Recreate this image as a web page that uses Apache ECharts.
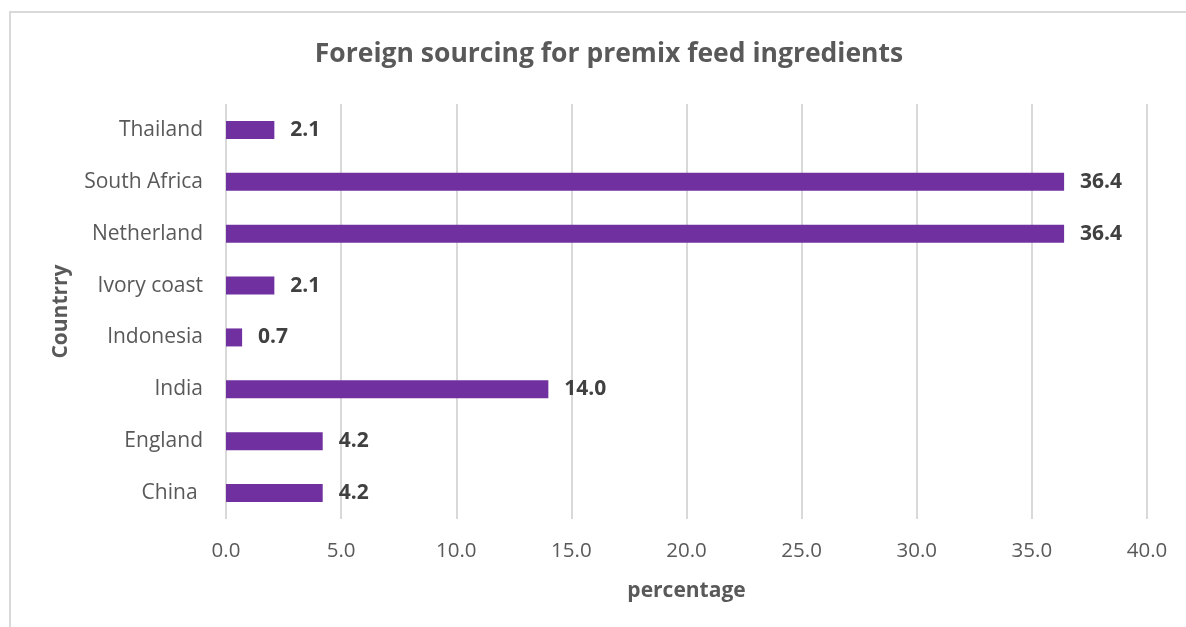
<!DOCTYPE html>
<html>
<head>
<meta charset="utf-8">
<script src="https://cdn.jsdelivr.net/npm/echarts@6/dist/echarts.min.js"></script>
<style>
html,body{margin:0;padding:0;background:#fff;}
#frame{position:absolute;left:9px;top:11px;width:1200px;height:640px;border-left:2px solid #d9d9d9;border-top:2px solid #d9d9d9;box-sizing:border-box;}
#chart{position:absolute;left:0;top:0;width:1186px;height:627px;}
</style>
</head>
<body>
<div id="frame"></div>
<div id="chart"></div>
<script>
const categories = ['China ', 'England', 'India', 'Indonesia', 'Ivory coast', 'Netherland', 'South Africa', 'Thailand'];
const values = [4.2, 4.2, 14.0, 0.7, 2.1, 36.4, 36.4, 2.1];
const xTicks = { min: 0, max: 40, interval: 5 };

const FONT = '"Open Sans", "Noto Sans", sans-serif';
const chart = echarts.init(document.getElementById('chart'), null, { renderer: 'canvas' });
chart.setOption({
  backgroundColor: 'transparent',
  animation: false,
  title: {
    text: 'Foreign sourcing for premix feed ingredients',
    left: 604, top: 36, textAlign: 'center',
    textStyle: { fontFamily: FONT, fontSize: 26.5, fontWeight: 'bold', color: '#595959' }
  },
  grid: { left: 226, right: 39, top: 104, bottom: 108, containLabel: false },
  xAxis: {
    type: 'value', min: xTicks.min, max: xTicks.max, interval: xTicks.interval,
    name: 'percentage', nameLocation: 'middle', nameGap: 62,
    nameTextStyle: { fontFamily: FONT, fontSize: 21, fontWeight: 'bold', color: '#595959' },
    axisLine: { show: false }, axisTick: { show: false },
    splitLine: { show: true, lineStyle: { color: '#d9d9d9', width: 2 } },
    axisLabel: { fontFamily: FONT, fontSize: 20.5, color: '#595959', margin: 22, formatter: v => v.toFixed(1) }
  },
  yAxis: {
    type: 'category', data: categories,
    name: 'Countrry', nameLocation: 'middle', nameGap: 154, nameRotate: 90,
    nameTextStyle: { fontFamily: FONT, fontSize: 21, fontWeight: 'bold', color: '#595959' },
    axisLine: { show: false }, axisTick: { show: false },
    axisLabel: { fontFamily: FONT, fontSize: 21, color: '#595959', margin: 23 }
  },
  series: [{
    type: 'bar', data: values, barWidth: 18,
    itemStyle: { color: '#7030a0' },
    label: { show: true, position: 'right', distance: 16, formatter: p => p.value.toFixed(1),
      fontFamily: FONT, fontSize: 21, fontWeight: 'bold', color: '#404040' }
  }]
});
</script>
</body>
</html>
